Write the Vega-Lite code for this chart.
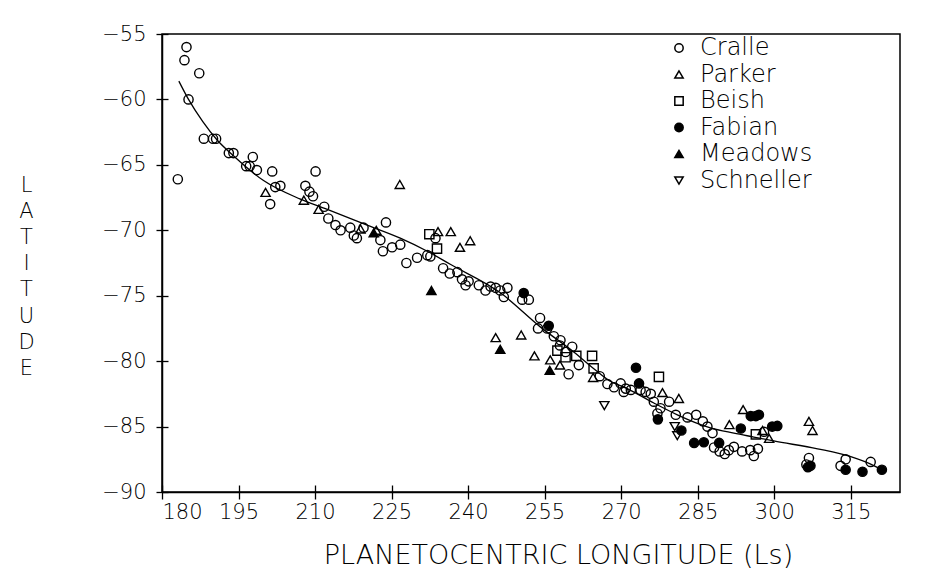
{
  "$schema": "https://vega.github.io/schema/vega-lite/v6.json",
  "autosize": "none",
  "width": 738,
  "height": 458,
  "padding": {"left": 162, "top": 34, "right": 36, "bottom": 79},
  "background": "white",
  "config": {
    "font": "DejaVu Sans",
    "view": {"stroke": "black", "strokeWidth": 1.5},
    "axis": {"labelColor": "black", "titleColor": "black", "domainColor": "black", "tickColor": "black", "domainWidth": 1.5, "tickWidth": 1.3, "grid": false, "labelFont": "DejaVu Sans", "titleFont": "DejaVu Sans", "titleFontWeight": 200, "labelFontWeight": 200},
    "legend": {"labelFontWeight": 200}
  },
  "datasets": {
    "pts": [
      {"obs": "Cralle", "ls": 184.8, "lat": -56.0},
      {"obs": "Cralle", "ls": 184.4, "lat": -57.0},
      {"obs": "Cralle", "ls": 187.3, "lat": -58.0},
      {"obs": "Cralle", "ls": 185.2, "lat": -60.0},
      {"obs": "Cralle", "ls": 183.1, "lat": -66.1},
      {"obs": "Cralle", "ls": 188.2, "lat": -63.0},
      {"obs": "Cralle", "ls": 190.0, "lat": -63.0},
      {"obs": "Cralle", "ls": 190.6, "lat": -63.0},
      {"obs": "Cralle", "ls": 193.1, "lat": -64.1},
      {"obs": "Cralle", "ls": 194.0, "lat": -64.1},
      {"obs": "Cralle", "ls": 196.5, "lat": -65.1},
      {"obs": "Cralle", "ls": 197.2, "lat": -65.1},
      {"obs": "Cralle", "ls": 197.8, "lat": -64.4},
      {"obs": "Cralle", "ls": 198.6, "lat": -65.4},
      {"obs": "Cralle", "ls": 201.6, "lat": -65.5},
      {"obs": "Cralle", "ls": 201.2, "lat": -68.0},
      {"obs": "Cralle", "ls": 202.2, "lat": -66.7},
      {"obs": "Cralle", "ls": 203.2, "lat": -66.6},
      {"obs": "Cralle", "ls": 210.1, "lat": -65.5},
      {"obs": "Cralle", "ls": 208.1, "lat": -66.6},
      {"obs": "Cralle", "ls": 208.9, "lat": -67.05},
      {"obs": "Cralle", "ls": 209.6, "lat": -67.4},
      {"obs": "Cralle", "ls": 211.8, "lat": -68.2},
      {"obs": "Cralle", "ls": 212.6, "lat": -69.1},
      {"obs": "Cralle", "ls": 214.0, "lat": -69.6},
      {"obs": "Cralle", "ls": 215.0, "lat": -70.0},
      {"obs": "Cralle", "ls": 216.9, "lat": -69.8},
      {"obs": "Cralle", "ls": 217.6, "lat": -70.4},
      {"obs": "Cralle", "ls": 218.2, "lat": -70.6},
      {"obs": "Cralle", "ls": 219.5, "lat": -69.8},
      {"obs": "Cralle", "ls": 222.8, "lat": -70.75},
      {"obs": "Cralle", "ls": 223.3, "lat": -71.6},
      {"obs": "Cralle", "ls": 223.9, "lat": -69.4},
      {"obs": "Cralle", "ls": 225.1, "lat": -71.3},
      {"obs": "Cralle", "ls": 226.7, "lat": -71.1},
      {"obs": "Cralle", "ls": 227.9, "lat": -72.5},
      {"obs": "Cralle", "ls": 230.0, "lat": -72.1},
      {"obs": "Cralle", "ls": 232.0, "lat": -71.9},
      {"obs": "Cralle", "ls": 232.6, "lat": -72.0},
      {"obs": "Cralle", "ls": 233.6, "lat": -70.6},
      {"obs": "Cralle", "ls": 235.1, "lat": -72.9},
      {"obs": "Cralle", "ls": 236.4, "lat": -73.3},
      {"obs": "Cralle", "ls": 237.9, "lat": -73.2},
      {"obs": "Cralle", "ls": 238.8, "lat": -73.75},
      {"obs": "Cralle", "ls": 239.5, "lat": -74.2},
      {"obs": "Cralle", "ls": 240.1, "lat": -73.9},
      {"obs": "Cralle", "ls": 242.1, "lat": -74.2},
      {"obs": "Cralle", "ls": 243.4, "lat": -74.6},
      {"obs": "Cralle", "ls": 244.4, "lat": -74.3},
      {"obs": "Cralle", "ls": 245.4, "lat": -74.4},
      {"obs": "Cralle", "ls": 246.3, "lat": -74.6},
      {"obs": "Cralle", "ls": 247.0, "lat": -75.1},
      {"obs": "Cralle", "ls": 247.7, "lat": -74.4},
      {"obs": "Cralle", "ls": 250.6, "lat": -75.3},
      {"obs": "Cralle", "ls": 251.9, "lat": -75.3},
      {"obs": "Cralle", "ls": 254.1, "lat": -76.7},
      {"obs": "Cralle", "ls": 253.7, "lat": -77.5},
      {"obs": "Cralle", "ls": 255.5, "lat": -77.5},
      {"obs": "Cralle", "ls": 256.8, "lat": -78.1},
      {"obs": "Cralle", "ls": 258.1, "lat": -78.4},
      {"obs": "Cralle", "ls": 258.0, "lat": -78.8},
      {"obs": "Cralle", "ls": 259.1, "lat": -79.3},
      {"obs": "Cralle", "ls": 260.4, "lat": -78.9},
      {"obs": "Cralle", "ls": 259.7, "lat": -81.0},
      {"obs": "Cralle", "ls": 261.7, "lat": -80.3},
      {"obs": "Cralle", "ls": 265.8, "lat": -81.15},
      {"obs": "Cralle", "ls": 267.3, "lat": -81.75},
      {"obs": "Cralle", "ls": 268.6, "lat": -82.0},
      {"obs": "Cralle", "ls": 269.9, "lat": -81.7},
      {"obs": "Cralle", "ls": 270.5, "lat": -82.35},
      {"obs": "Cralle", "ls": 270.9, "lat": -82.1},
      {"obs": "Cralle", "ls": 271.9, "lat": -82.2},
      {"obs": "Cralle", "ls": 273.8, "lat": -82.2},
      {"obs": "Cralle", "ls": 274.8, "lat": -82.35},
      {"obs": "Cralle", "ls": 275.8, "lat": -82.5},
      {"obs": "Cralle", "ls": 276.4, "lat": -83.1},
      {"obs": "Cralle", "ls": 277.7, "lat": -83.6},
      {"obs": "Cralle", "ls": 277.1, "lat": -84.0},
      {"obs": "Cralle", "ls": 279.4, "lat": -83.1},
      {"obs": "Cralle", "ls": 280.7, "lat": -84.1},
      {"obs": "Cralle", "ls": 283.0, "lat": -84.3},
      {"obs": "Cralle", "ls": 284.7, "lat": -84.1},
      {"obs": "Cralle", "ls": 286.0, "lat": -84.6},
      {"obs": "Cralle", "ls": 286.9, "lat": -85.0},
      {"obs": "Cralle", "ls": 287.9, "lat": -85.5},
      {"obs": "Cralle", "ls": 288.2, "lat": -86.6},
      {"obs": "Cralle", "ls": 289.3, "lat": -86.9},
      {"obs": "Cralle", "ls": 290.3, "lat": -87.1},
      {"obs": "Cralle", "ls": 291.1, "lat": -86.8},
      {"obs": "Cralle", "ls": 292.1, "lat": -86.55},
      {"obs": "Cralle", "ls": 293.7, "lat": -86.9},
      {"obs": "Cralle", "ls": 295.3, "lat": -86.8},
      {"obs": "Cralle", "ls": 296.0, "lat": -87.25},
      {"obs": "Cralle", "ls": 296.8, "lat": -86.7},
      {"obs": "Cralle", "ls": 298.0, "lat": -85.4},
      {"obs": "Cralle", "ls": 306.8, "lat": -87.4},
      {"obs": "Cralle", "ls": 306.3, "lat": -87.9},
      {"obs": "Cralle", "ls": 314.0, "lat": -87.5},
      {"obs": "Cralle", "ls": 313.0, "lat": -88.0},
      {"obs": "Cralle", "ls": 318.9, "lat": -87.7},
      {"obs": "Parker", "ls": 200.3, "lat": -67.1},
      {"obs": "Parker", "ls": 207.8, "lat": -67.7},
      {"obs": "Parker", "ls": 210.7, "lat": -68.4},
      {"obs": "Parker", "ls": 218.9, "lat": -69.9},
      {"obs": "Parker", "ls": 222.0, "lat": -70.0},
      {"obs": "Parker", "ls": 226.6, "lat": -66.5},
      {"obs": "Parker", "ls": 234.1, "lat": -70.1},
      {"obs": "Parker", "ls": 236.6, "lat": -70.1},
      {"obs": "Parker", "ls": 238.4, "lat": -71.3},
      {"obs": "Parker", "ls": 240.4, "lat": -70.8},
      {"obs": "Parker", "ls": 245.4, "lat": -78.2},
      {"obs": "Parker", "ls": 250.4, "lat": -78.0},
      {"obs": "Parker", "ls": 253.0, "lat": -79.6},
      {"obs": "Parker", "ls": 256.1, "lat": -79.9},
      {"obs": "Parker", "ls": 258.0, "lat": -80.3},
      {"obs": "Parker", "ls": 264.5, "lat": -81.25},
      {"obs": "Parker", "ls": 278.1, "lat": -82.4},
      {"obs": "Parker", "ls": 281.3, "lat": -82.85},
      {"obs": "Parker", "ls": 291.2, "lat": -84.85},
      {"obs": "Parker", "ls": 293.9, "lat": -83.7},
      {"obs": "Parker", "ls": 297.7, "lat": -85.3},
      {"obs": "Parker", "ls": 299.0, "lat": -85.9},
      {"obs": "Parker", "ls": 306.8, "lat": -84.6},
      {"obs": "Parker", "ls": 307.5, "lat": -85.3},
      {"obs": "Beish", "ls": 232.4, "lat": -70.3},
      {"obs": "Beish", "ls": 233.9, "lat": -71.4},
      {"obs": "Beish", "ls": 257.5, "lat": -79.2},
      {"obs": "Beish", "ls": 259.1, "lat": -79.7},
      {"obs": "Beish", "ls": 261.2, "lat": -79.6},
      {"obs": "Beish", "ls": 264.3, "lat": -79.6},
      {"obs": "Beish", "ls": 264.6, "lat": -80.55},
      {"obs": "Beish", "ls": 277.4, "lat": -81.2},
      {"obs": "Beish", "ls": 296.4, "lat": -85.6},
      {"obs": "Fabian", "ls": 250.9, "lat": -74.8},
      {"obs": "Fabian", "ls": 255.8, "lat": -77.3},
      {"obs": "Fabian", "ls": 272.9, "lat": -80.5},
      {"obs": "Fabian", "ls": 273.5, "lat": -81.7},
      {"obs": "Fabian", "ls": 277.2, "lat": -84.45},
      {"obs": "Fabian", "ls": 281.8, "lat": -85.3},
      {"obs": "Fabian", "ls": 284.3, "lat": -86.25},
      {"obs": "Fabian", "ls": 286.2, "lat": -86.2},
      {"obs": "Fabian", "ls": 289.2, "lat": -86.25},
      {"obs": "Fabian", "ls": 293.45, "lat": -85.15},
      {"obs": "Fabian", "ls": 295.4, "lat": -84.2},
      {"obs": "Fabian", "ls": 296.4, "lat": -84.2},
      {"obs": "Fabian", "ls": 297.0, "lat": -84.1},
      {"obs": "Fabian", "ls": 299.6, "lat": -85.0},
      {"obs": "Fabian", "ls": 300.6, "lat": -84.95},
      {"obs": "Fabian", "ls": 307.1, "lat": -88.0},
      {"obs": "Fabian", "ls": 306.6, "lat": -88.1},
      {"obs": "Fabian", "ls": 314.0, "lat": -88.3},
      {"obs": "Fabian", "ls": 317.3, "lat": -88.45},
      {"obs": "Fabian", "ls": 321.1, "lat": -88.3},
      {"obs": "Meadows", "ls": 221.5, "lat": -70.2},
      {"obs": "Meadows", "ls": 232.8, "lat": -74.6},
      {"obs": "Meadows", "ls": 246.3, "lat": -79.1},
      {"obs": "Meadows", "ls": 256.0, "lat": -80.7},
      {"obs": "Schneller", "ls": 266.7, "lat": -83.4},
      {"obs": "Schneller", "ls": 280.5, "lat": -85.0},
      {"obs": "Schneller", "ls": 281.0, "lat": -85.7}
    ],
    "fit": [
      {"ls": 183.3, "lat": -58.6},
      {"ls": 185.2, "lat": -60.0},
      {"ls": 188.0, "lat": -61.7},
      {"ls": 190.8, "lat": -63.1},
      {"ls": 194.0, "lat": -64.3},
      {"ls": 199.9, "lat": -66.2},
      {"ls": 207.0, "lat": -67.6},
      {"ls": 212.4, "lat": -68.4},
      {"ls": 220.2, "lat": -69.6},
      {"ls": 226.7, "lat": -70.6},
      {"ls": 232.0, "lat": -71.6},
      {"ls": 236.5, "lat": -72.6},
      {"ls": 246.4, "lat": -74.8},
      {"ls": 254.2, "lat": -77.4},
      {"ls": 260.7, "lat": -79.3},
      {"ls": 264.7, "lat": -80.6},
      {"ls": 267.3, "lat": -81.4},
      {"ls": 271.2, "lat": -82.1},
      {"ls": 276.4, "lat": -83.2},
      {"ls": 281.0, "lat": -84.1},
      {"ls": 287.5, "lat": -85.1},
      {"ls": 292.1, "lat": -85.5},
      {"ls": 296.0, "lat": -85.8},
      {"ls": 299.9, "lat": -86.1},
      {"ls": 308.5, "lat": -86.7},
      {"ls": 315.0, "lat": -87.3},
      {"ls": 319.6, "lat": -88.0},
      {"ls": 321.0, "lat": -88.3}
    ]
  },
  "layer": [
    {
      "data": {"name": "fit"},
      "mark": {"type": "line", "color": "black", "strokeWidth": 1.3, "interpolate": "monotone"},
      "encoding": {
        "x": {"field": "ls", "type": "quantitative", "scale": {"domain": [180, 324.65], "nice": false, "zero": false},
          "axis": {"orient": "bottom", "values": [180, 195, 210, 225, 240, 255, 270, 285, 300, 315], "tickSize": -7, "labels": false, "domain": false, "title": null}},
        "y": {"field": "lat", "type": "quantitative", "scale": {"domain": [-90, -55], "nice": false, "zero": false},
          "axis": {"orient": "left", "values": [-90, -85, -80, -75, -70, -65, -60, -55], "tickSize": -6, "labels": false, "domain": false, "title": null}}
      }
    },
    {
      "data": {"name": "pts"},
      "mark": {"type": "point", "stroke": "black", "strokeWidth": 1.4, "size": 85, "opacity": 1},
      "encoding": {
        "x": {"field": "ls", "type": "quantitative", "scale": {"domain": [180, 324.65], "nice": false, "zero": false},
          "axis": {"orient": "bottom", "values": [180, 195, 210, 225, 240, 255, 270, 285, 300, 315], "tickSize": 7, "labelFontSize": 21, "labelPadding": 2,
            "title": "PLANETOCENTRIC LONGITUDE (Ls)", "titleFontSize": 27, "titleX": 396, "titleAlign": "center", "titleY": 71, "titleBaseline": "alphabetic"}},
        "y": {"field": "lat", "type": "quantitative", "scale": {"domain": [-90, -55], "nice": false, "zero": false},
          "axis": {"orient": "left", "values": [-90, -85, -80, -75, -70, -65, -60, -55], "tickSize": 6, "labelFontSize": 21, "labelPadding": 10,
            "title": ["L", "A", "T", "I", "T", "U", "D", "E"], "titleAngle": 0, "titleFontSize": 21, "titleLineHeight": 26.2,
            "titleX": -136, "titleY": 140, "titleAlign": "center", "titleBaseline": "top"}},
        "shape": {"field": "obs", "type": "nominal",
          "scale": {"domain": ["Cralle", "Parker", "Beish", "Fabian", "Meadows", "Schneller"], "range": ["circle", "triangle-up", "square", "circle", "triangle-up", "triangle-down"]},
          "legend": {"title": null, "orient": "none", "legendX": 505, "legendY": 2, "labelFontSize": 24, "labelColor": "black", "symbolSize": 70, "rowPadding": 2.5, "labelOffset": 9, "padding": 0,
            "encode": {"symbols": {"update": {"stroke": {"value": "black"}, "strokeWidth": {"value": 1.4}}}}}},
        "fill": {"field": "obs", "type": "nominal",
          "scale": {"domain": ["Cralle", "Parker", "Beish", "Fabian", "Meadows", "Schneller"], "range": ["transparent", "transparent", "transparent", "black", "black", "transparent"]},
          "legend": {"title": null, "orient": "none", "legendX": 505, "legendY": 2, "labelFontSize": 24, "labelColor": "black", "symbolSize": 70, "rowPadding": 2.5, "labelOffset": 9, "padding": 0,
            "encode": {"symbols": {"update": {"stroke": {"value": "black"}, "strokeWidth": {"value": 1.4}}}}}}
      }
    }
  ],
  "resolve": {"axis": {"x": "independent", "y": "independent"}}
}
